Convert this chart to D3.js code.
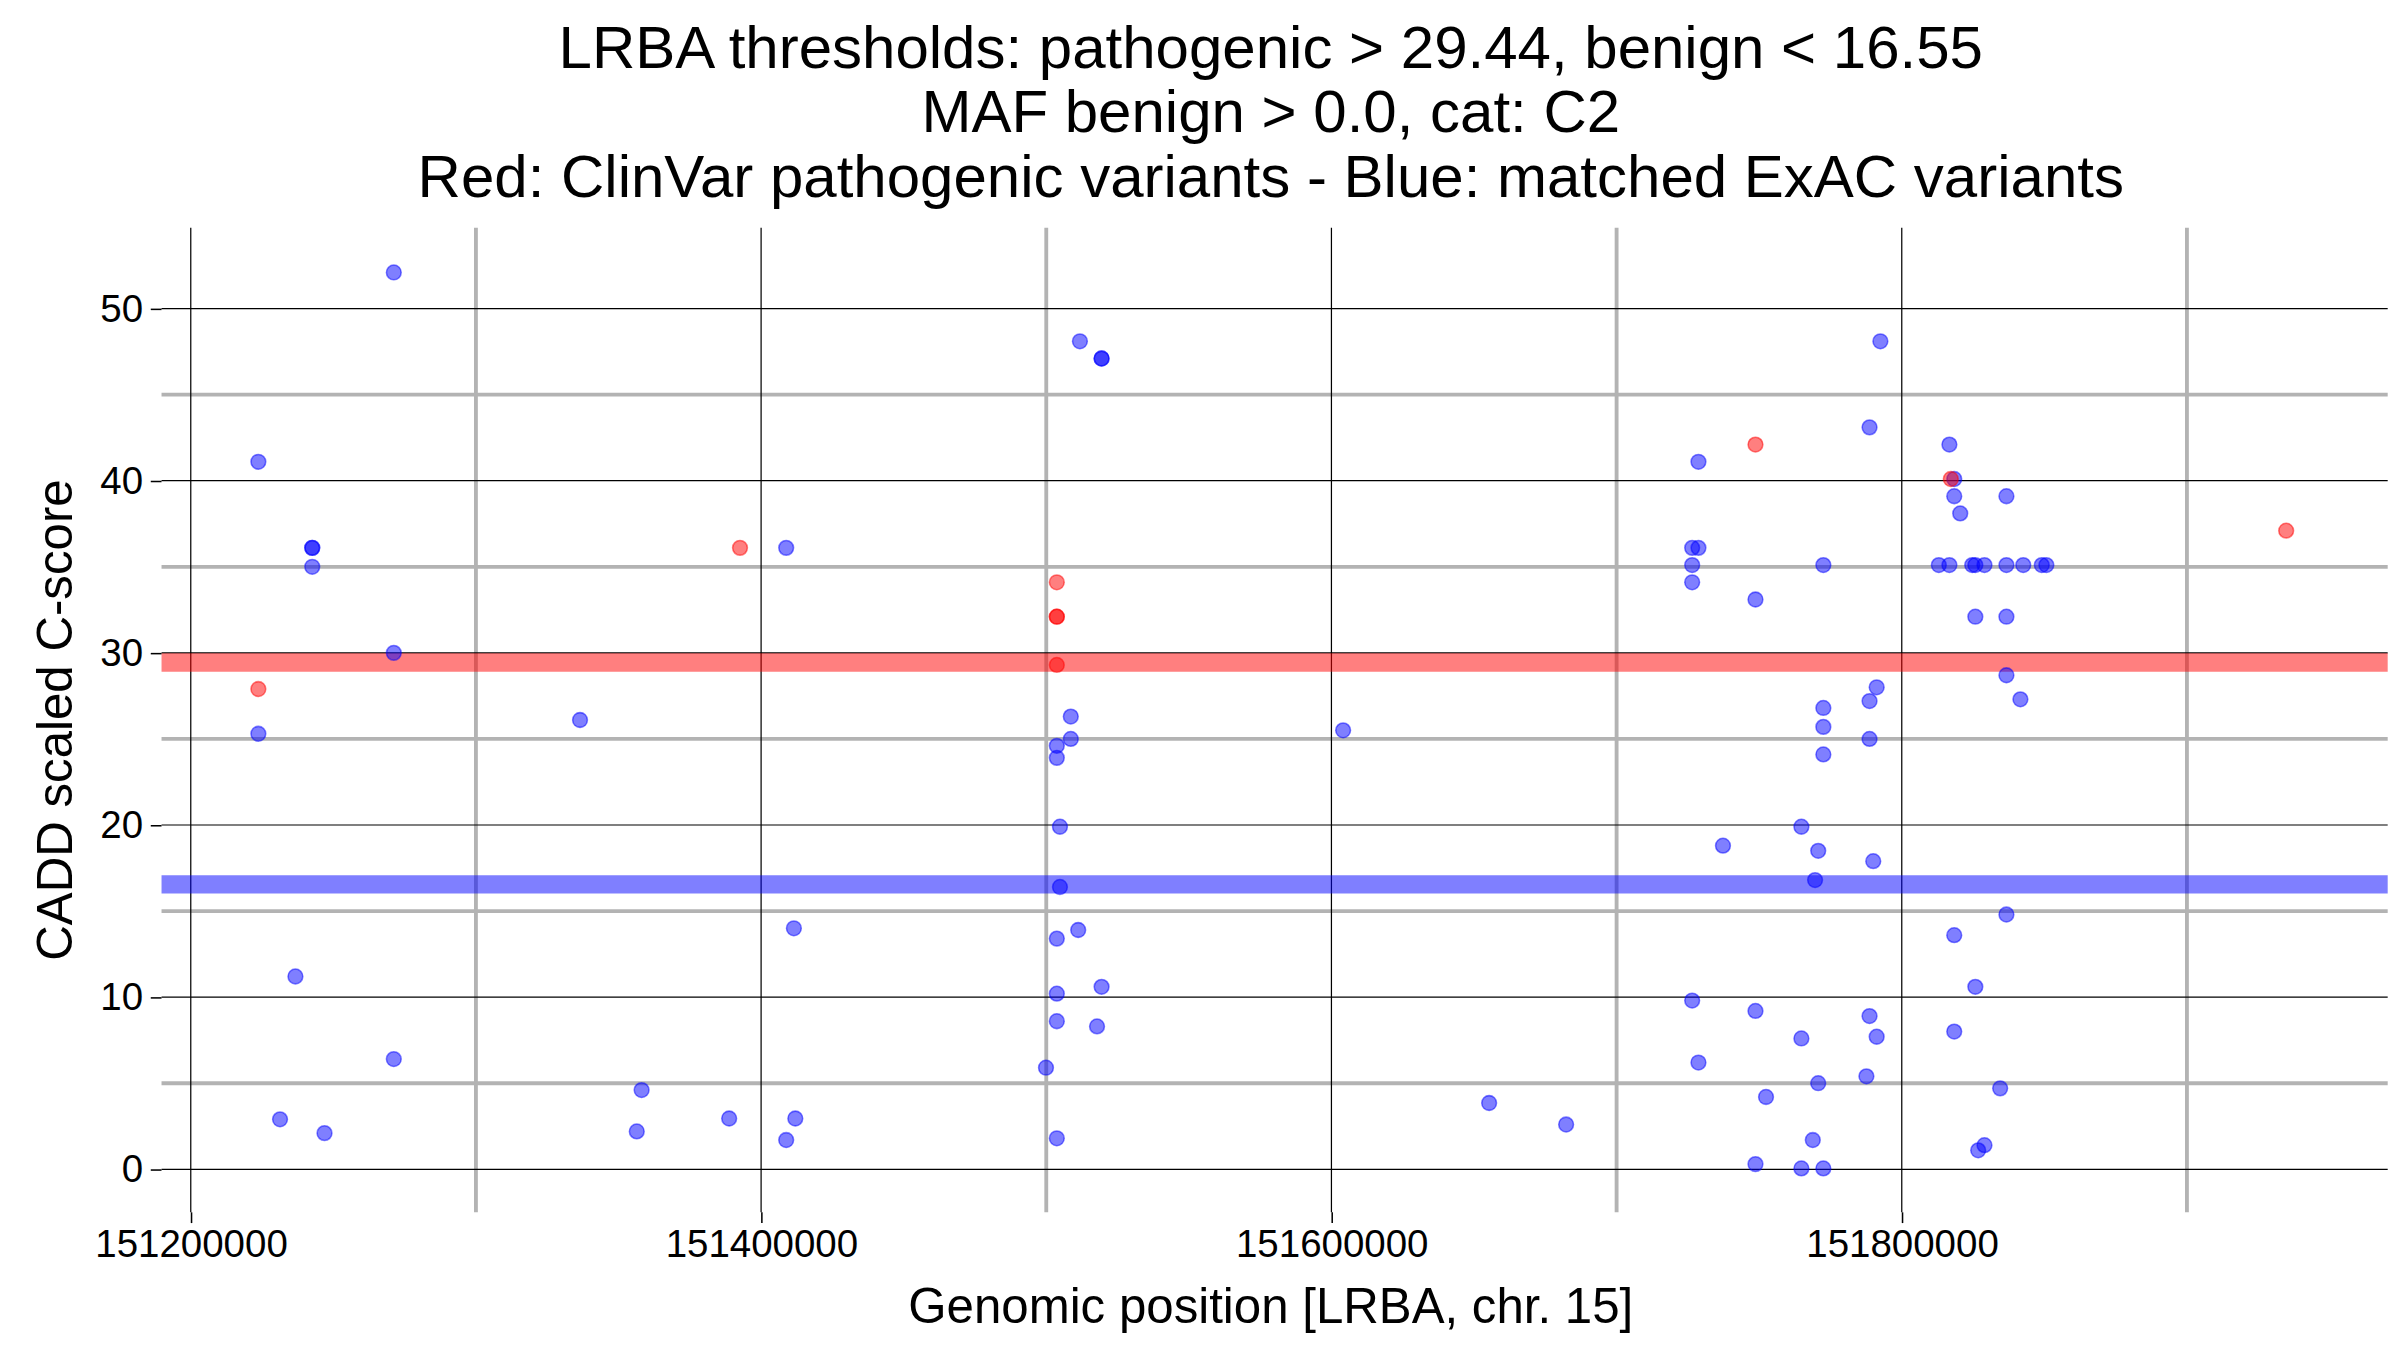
<!DOCTYPE html>
<html><head><meta charset="utf-8">
<script src="https://cdn.jsdelivr.net/npm/d3@7"></script>
<style>body{margin:0;background:#fff}</style>
</head><body><div id="chart"></div>
<script>
// genomic positions / CADD scores
const blueX = [151271200,151223700,151242600,151242600,151242600,151271200,151223700,151336500,151236700,151271200,151231300,151246900,
  151408800,151411500,151358100,151356400,151388800,151412000,151408800,
  151511800,151519400,151519400,151508600,151508600,151503700,151503700,151504800,151504800,151503700,151511200,151519400,151503700,151503700,151517800,151499900,151503700,
  151604100,151655300,151682300,
  151728700,151726500,151728700,151726500,151726500,151748700,151772500,151788700,151792500,151772500,151772500,151772500,151788700,151791200,151788700,
  151737300,151764800,151770700,151769600,151790000,151726500,151728700,151748700,151752400,151764800,151770700,151788700,151791200,151787600,151748700,151764800,151772500,151768800,
  151816700,151818400,151818400,151820500,151836700,151813000,151816700,151824700,151825800,151829000,151836700,151842600,151849100,151850700,
  151825800,151836700,151836700,151841600,151818400,151836700,151825800,151818400,151834500,151829000,151826800];
const blueY = [52.1,41.1,36.1,36.1,35.0,30.0,25.3,26.1,11.2,6.4,2.9,2.1,
  36.1,14.0,4.6,2.2,2.95,2.95,1.7,
  48.1,47.1,47.1,26.3,25.0,24.6,23.9,19.9,16.4,13.4,13.9,10.6,10.2,8.6,8.3,5.9,1.8,
  25.5,3.85,2.6,
  41.1,36.1,36.1,35.1,34.1,33.1,35.1,43.1,48.1,26.8,25.7,24.1,27.2,28.0,25.0,
  18.8,19.9,18.5,16.8,17.9,9.8,6.2,9.2,4.2,7.6,5.0,8.9,7.7,5.4,0.3,0.05,0.05,1.7,
  42.1,40.1,39.1,38.1,39.1,35.1,35.1,35.1,35.1,35.1,35.1,35.1,35.1,35.1,
  32.1,32.1,28.7,27.3,13.6,14.8,10.6,8.0,4.7,1.4,1.1];
const redX = [151223700,151392600,151503700,151503700,151503700,151503700,151748700,151817200,151934800];
const redY = [27.9,36.1,34.1,32.1,32.1,29.3,42.1,40.1,37.1];
const pathoThr = 29.44, benignThr = 16.55;
const xMajor = [151200000,151400000,151600000,151800000];
const xMinor = [151300000,151500000,151700000,151900000];
const yMajor = [0,10,20,30,40,50];
const yMinor = [5,15,25,35,45];
const titleLines = ["LRBA thresholds: pathogenic > 29.44, benign < 16.55",
  "MAF benign > 0.0, cat: C2",
  "Red: ClinVar pathogenic variants - Blue: matched ExAC variants"];

const W = 1560, H = 877.5;
const FONT = 'Liberation Sans, Arial, sans-serif';
const svg = d3.select('#chart').append('svg')
  .attr('width', 2400).attr('height', 1350)
  .attr('viewBox', `0 0 ${W} ${H}`)
  .style('font-family', FONT);

const L = 105, R = 1552, T = 148, B = 788;
const x = d3.scaleLinear().domain([151189750, 151970400]).range([L, R]);
const y = d3.scaleLinear().domain([-2.5, 54.7]).range([B, T]);

const grid = svg.append('g');
grid.selectAll('.ymin').data(yMinor).enter().append('line')
  .attr('x1', L).attr('x2', R).attr('y1', d => y(d)).attr('y2', d => y(d))
  .attr('stroke', '#b3b3b3').attr('stroke-width', 2.5);
grid.selectAll('.xmin').data(xMinor).enter().append('line')
  .attr('y1', T).attr('y2', B).attr('x1', d => x(d)).attr('x2', d => x(d))
  .attr('stroke', '#b3b3b3').attr('stroke-width', 2.5);
grid.selectAll('.ymaj').data(yMajor).enter().append('line')
  .attr('x1', L).attr('x2', R).attr('y1', d => y(d)).attr('y2', d => y(d))
  .attr('stroke', '#000').attr('stroke-width', 0.8);
grid.selectAll('.xmaj').data(xMajor).enter().append('line')
  .attr('y1', T).attr('y2', B).attr('x1', d => x(d)).attr('x2', d => x(d))
  .attr('stroke', '#000').attr('stroke-width', 0.8);

// thresholds
[[pathoThr, 'red'], [benignThr, 'blue']].forEach(([v, c]) => {
  svg.append('line').attr('x1', L).attr('x2', R).attr('y1', y(v)).attr('y2', y(v))
    .attr('stroke', c).attr('stroke-opacity', 0.5).attr('stroke-width', 12);
});

// axes
const xAxis = svg.append('g').attr('transform', `translate(0,${B})`)
  .call(d3.axisBottom(x).tickValues(xMajor).tickFormat(d3.format('d')).tickSize(7).tickPadding(4));
const yAxis = svg.append('g').attr('transform', `translate(${L},0)`)
  .call(d3.axisLeft(y).tickValues(yMajor).tickSize(7).tickPadding(5));
[xAxis, yAxis].forEach(a => {
  a.attr('font-family', FONT).attr('font-size', 25);
  a.select('.domain').remove();
  a.selectAll('text').style('font-size', '25px').attr('fill', '#000');
  a.selectAll('line').attr('stroke', '#000');
});

// points
const pts = svg.append('g');
pts.selectAll('.b').data(blueX.map((d, i) => [d, blueY[i]])).enter().append('circle')
  .attr('cx', d => x(d[0])).attr('cy', d => y(d[1])).attr('r', 4.8)
  .attr('fill', 'blue').attr('fill-opacity', 0.5).attr('stroke', 'blue').attr('stroke-opacity', 0.5);
pts.selectAll('.r').data(redX.map((d, i) => [d, redY[i]])).enter().append('circle')
  .attr('cx', d => x(d[0])).attr('cy', d => y(d[1])).attr('r', 4.8)
  .attr('fill', 'red').attr('fill-opacity', 0.5).attr('stroke', 'red').attr('stroke-opacity', 0.5);

// labels
svg.selectAll('.title').data(titleLines).enter().append('text')
  .attr('x', 826).attr('y', (d, i) => 44 + i * 42).attr('text-anchor', 'middle')
  .style('font-size', '39px').text(d => d);
svg.append('text').attr('x', 826).attr('y', 860).attr('text-anchor', 'middle')
  .style('font-size', '32px').text('Genomic position [LRBA, chr. 15]');
svg.append('text').attr('transform', `translate(47,${(T + B) / 2}) rotate(-90)`)
  .attr('text-anchor', 'middle').style('font-size', '32px').text('CADD scaled C-score');
</script></body></html>
